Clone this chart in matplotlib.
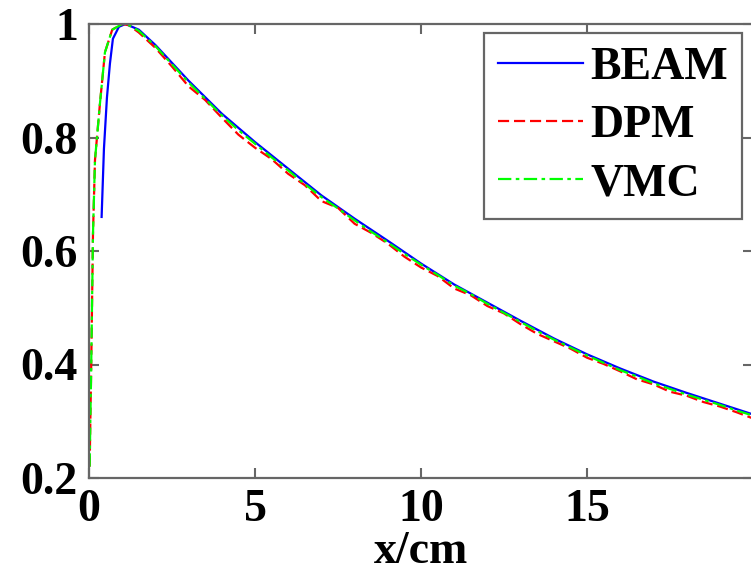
import matplotlib
matplotlib.use('Agg')
import matplotlib.pyplot as plt
import numpy as np

# depth dose curves
x_beam = [0.38, 0.45, 0.54, 0.63, 0.72, 0.9, 1.1, 1.5, 2, 3, 4, 5, 6, 7, 8, 9,
          10, 11, 12, 13, 14, 15, 16, 17, 18, 19, 20]
y_beam = [0.66, 0.78, 0.87, 0.93, 0.974, 0.995, 1.0, 0.99, 0.963, 0.9, 0.842, 0.792,
          0.745, 0.698, 0.657, 0.618, 0.578, 0.541, 0.509, 0.477, 0.446, 0.418,
          0.393, 0.37, 0.35, 0.331, 0.312]

x_mc = [0.02, 0.04, 0.06, 0.09, 0.12, 0.18, 0.33, 0.48, 0.7, 1.0, 1.2, 1.5, 2, 2.5,
        3, 3.5, 4, 4.5, 5, 5.5, 6, 6.5, 7, 7.5, 8, 8.5, 9, 9.5, 10, 10.5, 11, 11.5,
        12, 12.5, 13, 13.5, 14, 14.5, 15, 15.5, 16, 16.5, 17, 17.5, 18, 18.5, 19,
        19.5, 20]
y_dpm = [0.22, 0.3, 0.37, 0.5, 0.63, 0.76, 0.86, 0.95, 0.99, 1.0, 0.998, 0.985, 0.958,
         0.925, 0.89, 0.866, 0.835, 0.805, 0.782, 0.762, 0.736, 0.716, 0.688, 0.676,
         0.648, 0.632, 0.613, 0.59, 0.571, 0.556, 0.534, 0.522, 0.503, 0.49, 0.471,
         0.454, 0.441, 0.428, 0.412, 0.401, 0.388, 0.374, 0.365, 0.352, 0.345, 0.334,
         0.326, 0.316, 0.305]
y_vmc = [0.22, 0.3, 0.37, 0.5, 0.63, 0.76, 0.86, 0.95, 0.99, 1.0, 0.998, 0.988, 0.961,
         0.929, 0.897, 0.868, 0.839, 0.813, 0.789, 0.765, 0.742, 0.718, 0.695, 0.675,
         0.654, 0.634, 0.615, 0.595, 0.576, 0.558, 0.539, 0.524, 0.507, 0.491, 0.475,
         0.459, 0.444, 0.43, 0.416, 0.403, 0.39, 0.379, 0.367, 0.357, 0.347, 0.338,
         0.329, 0.319, 0.31]

xticks = [0, 5, 10, 15, 20]
xticklabels = ['0', '5', '10', '15', '']
yticks = [0.2, 0.4, 0.6, 0.8, 1.0]
yticklabels = ['0.2', '0.4', '0.6', '0.8', '1']

plt.rcParams['font.family'] = 'Liberation Serif'
plt.rcParams['font.weight'] = 'bold'
fs = 33

fig = plt.figure(figsize=(7.51, 5.79), dpi=100)
ax = fig.add_axes([89/751, 1-478/579, (753-89)/751, (478-24)/579])

ax.plot(x_beam, y_beam, color='#0000ff', lw=1.6, label='BEAM')
ax.plot(x_mc, y_dpm, color='#ff0000', lw=1.6, ls=(0, (5, 2.2)), label='DPM')
ax.plot(x_mc, y_vmc, color='#00ff00', lw=1.6, ls=(0, (6, 2, 1.6, 2)), label='VMC')

ax.set_xlim(0, 20)
ax.set_ylim(0.2, 1.0)
ax.set_xticks(xticks)
ax.set_xticklabels(xticklabels)
ax.set_yticks(yticks)
ax.set_yticklabels(yticklabels)
ax.tick_params(direction='in', length=7, width=1.5, color='#666666',
               top=True, right=True, labelsize=fs, pad=8)
for s in ax.spines.values():
    s.set_color('#666666')
    s.set_linewidth(1.6)
ax.set_xlabel('x/cm', fontsize=fs, fontweight='bold', labelpad=0)

leg = ax.legend(loc='upper right', bbox_to_anchor=((742-89)/664, (478-33)/454),
                borderaxespad=0, fontsize=fs, handlelength=1.85, handletextpad=0.17,
                labelspacing=0.35, borderpad=0.3, fancybox=False, framealpha=1)
leg.get_frame().set_edgecolor('#666666')
leg.get_frame().set_linewidth(1.6)

fig.savefig('out.png', dpi=100)
